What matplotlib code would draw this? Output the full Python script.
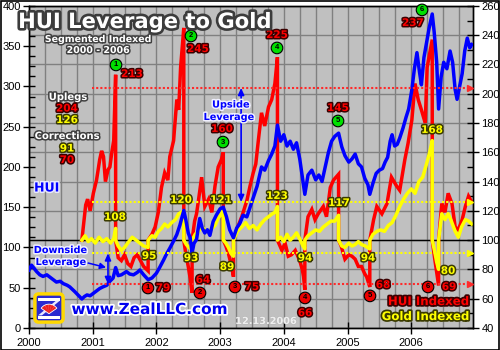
import matplotlib
matplotlib.use("Agg")
import matplotlib.pyplot as plt
import matplotlib.patheffects as pe
from matplotlib.patches import FancyBboxPatch, Rectangle, Wedge, Polygon
from matplotlib.ticker import MultipleLocator

plt.rcParams['font.family'] = ['Liberation Sans', 'DejaVu Sans']

# HUI gold stock index (left axis)
hui_dates = [2000.00, 2000.04, 2000.08, 2000.12, 2000.17, 2000.22, 2000.28, 2000.33, 2000.38, 2000.43,
             2000.49, 2000.54, 2000.60, 2000.64, 2000.68, 2000.72, 2000.78, 2000.83, 2000.87, 2000.91,
             2000.96, 2001.01, 2001.06, 2001.11, 2001.16, 2001.22, 2001.27, 2001.32, 2001.36, 2001.40,
             2001.45, 2001.53, 2001.58, 2001.64, 2001.70, 2001.74, 2001.80, 2001.87, 2001.93, 2002.00,
             2002.05, 2002.11, 2002.16, 2002.21, 2002.27, 2002.32, 2002.37, 2002.43, 2002.46, 2002.50,
             2002.53, 2002.56, 2002.59, 2002.63, 2002.68, 2002.72, 2002.76, 2002.80, 2002.84, 2002.89,
             2002.94, 2003.00, 2003.05, 2003.10, 2003.15, 2003.21, 2003.26, 2003.31, 2003.36, 2003.42,
             2003.47, 2003.52, 2003.58, 2003.65, 2003.70, 2003.76, 2003.81, 2003.86, 2003.90, 2003.95,
             2004.00, 2004.05, 2004.10, 2004.15, 2004.20, 2004.25, 2004.30, 2004.33, 2004.38, 2004.44,
             2004.50, 2004.55, 2004.60, 2004.65, 2004.70, 2004.75, 2004.80, 2004.86, 2004.91, 2004.96,
             2005.02, 2005.07, 2005.12, 2005.17, 2005.22, 2005.27, 2005.32, 2005.35, 2005.40, 2005.45,
             2005.50, 2005.55, 2005.59, 2005.63, 2005.67, 2005.70, 2005.74, 2005.78, 2005.82, 2005.87,
             2005.92, 2005.96, 2006.01, 2006.05, 2006.09, 2006.13, 2006.16, 2006.20, 2006.24, 2006.28,
             2006.33, 2006.36, 2006.40, 2006.43, 2006.47, 2006.51, 2006.56, 2006.61, 2006.65, 2006.69,
             2006.72, 2006.76, 2006.80, 2006.84, 2006.88, 2006.92, 2006.95]
hui_values = [72, 78, 74, 70, 66, 64, 66, 63, 60, 57,
              58, 55, 53, 51, 48, 45, 40, 36, 39, 41,
              40, 43, 46, 49, 51, 53, 58, 62, 75, 65,
              66, 70, 67, 66, 69, 72, 66, 60, 62, 68,
              75, 84, 92, 99, 108, 116, 128, 146, 135, 118,
              112, 93, 105, 110, 136, 124, 118, 122, 115, 132,
              140, 148, 150, 138, 122, 112, 124, 130, 140, 138,
              150, 162, 176, 200, 196, 208, 216, 226, 252, 232,
              240, 226, 232, 222, 230, 210, 182, 166, 190, 196,
              184, 190, 182, 200, 218, 232, 238, 242, 225, 214,
              206, 210, 216, 204, 200, 186, 178, 166, 180, 192,
              196, 198, 206, 212, 232, 240, 226, 228, 236, 248,
              262, 272, 296, 322, 342, 318, 302, 336, 354, 372,
              390, 368, 330, 272, 312, 330, 322, 344, 330, 296,
              284, 300, 316, 344, 360, 348, 352]

# HUI indexed to 100 at the start of each upleg / correction (right axis)
hui_idx_dates = [2000.83, 2000.86, 2000.89, 2000.92, 2000.96, 2001.01, 2001.06, 2001.11, 2001.14, 2001.17,
                 2001.20, 2001.24, 2001.27, 2001.30, 2001.33, 2001.36,
                 2001.36, 2001.40, 2001.45, 2001.50, 2001.55, 2001.60, 2001.65, 2001.70, 2001.75, 2001.80, 2001.87,
                 2001.87, 2001.93, 2001.98, 2002.03, 2002.08, 2002.13, 2002.18, 2002.21, 2002.27, 2002.32,
                 2002.35, 2002.38, 2002.43,
                 2002.43, 2002.46, 2002.50, 2002.53, 2002.56,
                 2002.56, 2002.60, 2002.63, 2002.66, 2002.71, 2002.76, 2002.82, 2002.87, 2002.92, 2002.97,
                 2003.02, 2003.05,
                 2003.05, 2003.09, 2003.13, 2003.18, 2003.21,
                 2003.21, 2003.26, 2003.34, 2003.42, 2003.47, 2003.52, 2003.56, 2003.60, 2003.65, 2003.70,
                 2003.76, 2003.81, 2003.86, 2003.90,
                 2003.90, 2003.97, 2004.02, 2004.07, 2004.12, 2004.18, 2004.25, 2004.29, 2004.31, 2004.33,
                 2004.33, 2004.38, 2004.44, 2004.49, 2004.54, 2004.62, 2004.67, 2004.73, 2004.78, 2004.86,
                 2004.86, 2004.90, 2004.96, 2005.02, 2005.07, 2005.12, 2005.17, 2005.22, 2005.27, 2005.30, 2005.35,
                 2005.35, 2005.41, 2005.46, 2005.54, 2005.62, 2005.69, 2005.77, 2005.82, 2005.90, 2005.95,
                 2006.01, 2006.06, 2006.11, 2006.16, 2006.22, 2006.25, 2006.30, 2006.33,
                 2006.33, 2006.37, 2006.40, 2006.43,
                 2006.43, 2006.48, 2006.53, 2006.58, 2006.64, 2006.69, 2006.74, 2006.80, 2006.85, 2006.90, 2006.95]
hui_idx_values = [100, 112, 124, 128, 120, 132, 141, 155, 161, 157,
                  140, 148, 150, 160, 168, 213,
                  100, 88, 86, 90, 84, 82, 88, 90, 86, 82, 79,
                  100, 104, 109, 119, 136, 146, 141, 157, 168, 196,
                  189, 218, 245,
                  100, 91, 82, 74, 64,
                  100, 113, 118, 127, 143, 123, 128, 119, 137, 150,
                  155, 160,
                  100, 96, 91, 82, 75,
                  100, 107, 116, 127, 137, 146, 152, 168, 187, 178,
                  191, 196, 207, 225,
                  100, 93, 98, 89, 90, 93, 86, 80, 75, 66,
                  100, 116, 121, 114, 118, 123, 116, 136, 141, 145,
                  100, 96, 87, 90, 89, 87, 82, 82, 77, 75, 68,
                  100, 114, 123, 118, 125, 143, 137, 134, 155, 166,
                  182, 207, 196, 189, 180, 218, 230, 237,
                  100, 87, 78, 69,
                  100, 125, 119, 132, 125, 109, 107, 114, 123, 130, 126]

# Gold indexed over the same segments (right axis)
gold_idx_dates = [2000.83, 2000.88, 2000.93, 2000.98, 2001.04, 2001.10, 2001.16, 2001.22, 2001.28, 2001.33, 2001.36,
                  2001.36, 2001.40, 2001.45, 2001.50, 2001.55, 2001.62, 2001.68, 2001.74, 2001.80, 2001.87,
                  2001.87, 2001.93, 2001.98, 2002.03, 2002.08, 2002.13, 2002.18, 2002.24, 2002.30, 2002.35, 2002.43,
                  2002.43, 2002.47, 2002.51, 2002.56,
                  2002.56, 2002.61, 2002.66, 2002.71, 2002.76, 2002.82, 2002.87, 2002.92, 2002.97, 2003.02, 2003.05,
                  2003.05, 2003.09, 2003.13, 2003.17, 2003.21,
                  2003.21, 2003.27, 2003.34, 2003.40, 2003.46, 2003.52, 2003.58, 2003.64, 2003.70, 2003.76,
                  2003.82, 2003.86, 2003.90,
                  2003.90, 2003.95, 2004.00, 2004.05, 2004.10, 2004.15, 2004.20, 2004.26, 2004.30, 2004.33,
                  2004.33, 2004.38, 2004.44, 2004.50, 2004.56, 2004.62, 2004.68, 2004.74, 2004.80, 2004.86,
                  2004.86, 2004.91, 2004.96, 2005.02, 2005.07, 2005.12, 2005.17, 2005.22, 2005.28, 2005.35,
                  2005.35, 2005.40, 2005.46, 2005.52, 2005.58, 2005.64, 2005.70, 2005.76, 2005.82, 2005.88,
                  2005.94, 2006.00, 2006.06, 2006.12, 2006.18, 2006.24, 2006.29, 2006.33,
                  2006.33, 2006.37, 2006.40, 2006.43,
                  2006.43, 2006.48, 2006.53, 2006.58, 2006.63, 2006.69, 2006.74, 2006.79, 2006.85, 2006.90, 2006.95]
gold_idx_values = [100, 103, 99, 101, 98, 102, 99, 101, 98, 101, 108,
                   100, 96, 93, 95, 98, 102, 100, 98, 96, 95,
                   100, 103, 102, 106, 108, 111, 109, 112, 114, 118, 120,
                   100, 97, 95, 93,
                   100, 104, 106, 109, 107, 105, 108, 110, 115, 118, 121,
                   100, 98, 95, 91, 89,
                   100, 106, 109, 112, 108, 110, 107, 111, 114, 116,
                   118, 119, 123,
                   100, 102, 99, 104, 100, 102, 105, 100, 96, 94,
                   100, 103, 105, 107, 106, 109, 111, 113, 113, 117,
                   100, 96, 95, 98, 96, 97, 99, 97, 96, 94,
                   100, 104, 106, 107, 106, 110, 112, 117, 123, 128,
                   132, 135, 132, 140, 143, 152, 160, 168,
                   100, 92, 85, 80,
                   100, 118, 114, 118, 113, 106, 102, 109, 114, 113, 111]

# average upleg / correction levels
upleg_avg = {'hui': 204, 'gold': 126}
correction_avg = {'gold': 91, 'hui': 70}

# peak labels (green) and trough labels (red)
peak_pos = [(2001.366, 219.7), (2002.543, 239.5), (2003.045, 167), (2003.893, 231.3), (2004.851, 181.4), (2006.17, 257.3)]
peak_vals = ['213', '245', '160', '225', '145', '237']
peak_val_pos = [(2001.617, 213.5), (2002.653, 230.6), (2003.03, 176), (2003.893, 240.2), (2004.851, 190.3), (2006.028, 248.4)]
trough_pos = [(2001.868, 67.3), (2002.684, 63.9), (2003.234, 68), (2004.333, 60.5), (2005.353, 61.9), (2006.264, 68)]
trough_vals = ['79', '64', '75', '66', '68', '69']
trough_val_pos = [(2002.104, 67.3), (2002.732, 72.8), (2003.5, 68), (2004.333, 50.2), (2005.557, 69.4), (2006.593, 68)]
gold_vals = ['108', '95', '120', '93', '121', '89', '123', '94', '117', '94', '168', '80']
gold_val_pos = [(2001.35, 115.8), (2001.884, 89.2), (2002.386, 127.5), (2002.543, 87.8), (2003.014, 127.5),
                (2003.108, 81.7), (2003.893, 130.2), (2004.333, 87.8), (2004.867, 125.4), (2005.322, 87.8),
                (2006.327, 175.3), (2006.578, 79)]

RED = '#ff0000'
YEL = '#ffff00'
BLU = '#0000ff'

fig = plt.figure(figsize=(5, 3.5), dpi=100)
fig.patch.set_facecolor('white')
fig.patches.append(Rectangle((0.001, 0.001), 0.997, 0.996, transform=fig.transFigure,
                             fill=False, edgecolor='black', lw=1.2))

ax2 = fig.add_axes([0.058, 0.063, 0.888, 0.92])
ax = ax2.twinx()
ax.yaxis.tick_left()
ax2.yaxis.tick_right()
ax2.set_facecolor('#c0c0c0')
ax.patch.set_visible(False)

ax.set_xlim(2000, 2006.97)
ax.set_ylim(0, 400)
ax2.set_ylim(40, 260)

ax2.xaxis.set_major_locator(MultipleLocator(1))
ax2.xaxis.set_minor_locator(MultipleLocator(0.25))
ax2.xaxis.set_major_formatter(lambda v, p: f'{int(round(v))}')
ax.yaxis.set_major_locator(MultipleLocator(50))
ax.yaxis.set_minor_locator(MultipleLocator(12.5))
ax2.yaxis.set_major_locator(MultipleLocator(20))
ax2.yaxis.set_minor_locator(MultipleLocator(10))

ax2.grid(True, which='both', axis='x', color='#808080', lw=1)
ax2.grid(True, which='major', axis='y', color='#808080', lw=1)
ax2.set_axisbelow(True)

ax.tick_params(axis='y', which='major', direction='inout', length=8, width=1, labelsize=8, pad=2)
ax.tick_params(axis='y', which='minor', direction='in', length=4, width=1)
ax2.tick_params(axis='y', which='major', direction='inout', length=8, width=1, labelsize=8, pad=2)
ax2.tick_params(axis='y', which='minor', direction='in', length=4, width=1)
ax2.tick_params(axis='x', which='major', direction='inout', length=8, width=1, labelsize=8, pad=3)
ax2.tick_params(axis='x', which='minor', length=0)
for a in (ax, ax2):
    for s in a.spines.values():
        s.set_linewidth(1)

# 100 reference line
ax2.axhline(100, color='black', lw=1, zorder=1)

ax2.plot(hui_idx_dates, hui_idx_values, color=RED, lw=2.5, solid_joinstyle='miter', zorder=3)
ax2.plot(gold_idx_dates, gold_idx_values, color=YEL, lw=2.5, zorder=4)
ax.plot(hui_dates, hui_values, color=BLU, lw=2.5, zorder=3)

tr = ax2.transData

# average level lines with arrowheads
x0, x1 = 2000.99, 2006.90
for lvl, col in [(upleg_avg['hui'], '#ff2a2a'), (upleg_avg['gold'], YEL),
                 (correction_avg['gold'], YEL), (correction_avg['hui'], '#ff2a2a')]:
    ax.plot([x0, x1], [lvl, lvl], transform=tr, color=col, lw=1.5, ls=(0, (1, 1)), zorder=5)
    ax.plot([x1 + 0.02], [lvl], transform=tr, marker='>', ms=5, color=col, mec=col, zorder=5)

# leverage arrows
ax.annotate('', xy=(2003.33, 204), xytext=(2003.33, 126), xycoords=tr, textcoords=tr,
            arrowprops=dict(arrowstyle='<|-|>,head_length=0.4,head_width=0.18', color=BLU, lw=1.2,
                            shrinkA=0, shrinkB=0), zorder=6)
ax.annotate('', xy=(2001.24, 91), xytext=(2001.24, 70), xycoords=tr, textcoords=tr,
            arrowprops=dict(arrowstyle='<|-|>,head_length=0.4,head_width=0.18', color=BLU, lw=1.2,
                            shrinkA=0, shrinkB=0), zorder=6)


def stroke(c, w=2.2):
    return [pe.withStroke(linewidth=w, foreground=c)]


def ftext(px, py, s, color, edge, size, w=2.2, ha='center', va='baseline', **kw):
    fig.text(px / 500, 1 - py / 350, s, color=color, fontsize=size, fontweight='bold',
             family='DejaVu Sans', ha=ha, va=va, path_effects=stroke(edge, w), zorder=10, **kw)


def dtext(x, y, s, color, edge, size=7.5, w=2.2):
    ax.text(x, y, s, transform=tr, color=color, fontsize=size, fontweight='bold', family='DejaVu Sans',
            ha='center', va='center', path_effects=stroke(edge, w), zorder=8)


for (x, y), n in zip(peak_pos, range(1, 7)):
    ax.text(x, y, str(n), transform=tr, fontsize=5.5, fontweight='bold', color='black', ha='center', va='center',
            bbox=dict(boxstyle='circle,pad=0.3', fc='#00e000', ec='black', lw=0.8), zorder=8)
for (x, y), n in zip(trough_pos, range(1, 7)):
    ax.text(x, y, str(n), transform=tr, fontsize=5.5, fontweight='bold', color='black', ha='center', va='center',
            bbox=dict(boxstyle='circle,pad=0.3', fc='#ee0000', ec='black', lw=0.8), zorder=8)
for (x, y), s in zip(peak_val_pos, peak_vals):
    dtext(x, y, s, RED, '#3a0000')
for (x, y), s in zip(trough_val_pos, trough_vals):
    dtext(x, y, s, RED, '#3a0000')
for (x, y), s in zip(gold_val_pos, gold_vals):
    dtext(x, y, s, YEL, '#3a3a00')

# titles and notes
ftext(145, 28, 'HUI Leverage to Gold', 'white', '#3c3c3c', 15.2, w=3.8)
ftext(98, 42, 'Segmented Indexed', 'white', '#404040', 6.8)
ftext(98, 53, '2000 - 2006', 'white', '#404040', 6.8)
ftext(68, 100, 'Uplegs', 'white', '#404040', 7.2)
ftext(67, 111.5, str(upleg_avg['hui']), RED, '#3a0000', 7.5)
ftext(67, 123, str(upleg_avg['gold']), YEL, '#3a3a00', 7.5)
ftext(67, 139, 'Corrections', 'white', '#404040', 7.2)
ftext(67, 151.5, str(correction_avg['gold']), YEL, '#3a3a00', 7.5)
ftext(67, 163, str(correction_avg['hui']), RED, '#3a0000', 7.5)
ftext(46.5, 191.5, 'HUI', BLU, '#e8e8ff', 9)
ftext(60.5, 253, 'Downside', BLU, '#f0f0ff', 7)
ftext(61, 265, 'Leverage', BLU, '#f0f0ff', 7)
ftext(231, 107.5, 'Upside', BLU, '#f0f0ff', 7)
ftext(229, 120, 'Leverage', BLU, '#f0f0ff', 7)
ftext(469, 305, 'HUI Indexed', RED, '#3a0000', 8.5, w=2.5, ha='right')
ftext(469, 320, 'Gold Indexed', YEL, '#3a3a00', 8.5, w=2.5, ha='right')
ftext(266, 324, '12.13.2006', '#eeeeee', '#b0b0b0', 7, w=0.5)
ftext(149, 314, 'www.ZealLLC.com', '#0000ee', 'white', 11, w=2.5)

ax.annotate('', xy=(106 / 500, 1 - 267.5 / 350), xytext=(88 / 500, 1 - 263 / 350),
            xycoords='figure fraction', textcoords='figure fraction',
            arrowprops=dict(arrowstyle='-|>,head_length=0.35,head_width=0.18', color=BLU, lw=1.1,
                            shrinkA=0, shrinkB=0), zorder=6)

# logo
lg = fig.add_axes([33 / 500, 1 - 324 / 350, 32 / 500, 32 / 350])
lg.set_xlim(0, 1)
lg.set_ylim(0, 1)
lg.axis('off')
lg.add_patch(FancyBboxPatch((0.06, 0.06), 0.88, 0.88, boxstyle='round,pad=0,rounding_size=0.12',
                            fc='#2a2ad0', ec='#ffd800', lw=2.5))
for y in (0.78, 0.22):
    lg.add_patch(Rectangle((0.16, y - 0.05), 0.68, 0.08, fc='white', ec='none'))
lg.add_patch(Polygon([[0.72, 0.73], [0.84, 0.73], [0.28, 0.27], [0.16, 0.27]], fc='#e8e8ff', ec='none'))
lg.add_patch(Wedge((0.5, 0.32), 0.3, 35, 145, fc='#ee2020', ec='white', lw=0.6))
for a in (55, 75, 95, 115):
    lg.add_patch(Wedge((0.5, 0.32), 0.3, a - 0.5, a + 0.5, fc='white', ec='none'))

fig.savefig('out.png', dpi=100, facecolor='white')
